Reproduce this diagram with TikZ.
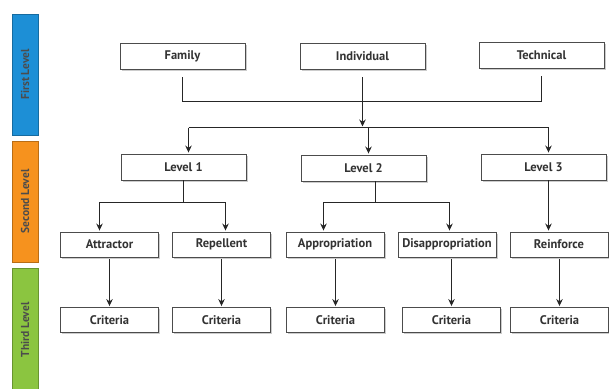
\documentclass[tikz,border=0pt]{standalone}
\usepackage{fontspec}
\setmainfont{PT Sans}
\usetikzlibrary{shadows,arrows.meta}
\definecolor{barblue}{RGB}{29,143,214}
\definecolor{barorange}{RGB}{246,146,30}
\definecolor{bargreen}{RGB}{139,197,64}
\tikzset{
boxnode/.style={rectangle, draw=black!70,fill=white, line width=0.9pt, inner sep=0pt, minimum width= 125pt, minimum height = 26pt, font=\fontsize{12.5}{14}\selectfont\bfseries, text=black!80, drop shadow={opacity=0.4, shadow xshift=1.5pt, shadow yshift=-1.5pt}},
smallbox/.style={boxnode, minimum width= 98pt, minimum height = 25pt},
levelbar/.style={rectangle, draw=#1!75!black,fill=#1, line width=0.6pt, inner sep=0pt, minimum width= 26pt},
barlabel/.style={rotate=90, font=\fontsize{11.5}{13}\selectfont\bfseries, text=black!70},
joinline/.style={line width=1.9pt, black!85},
joinarrow/.style={joinline, -{Stealth[length=7pt,width=6.5pt]}, shorten >=1pt},
}
\begin{document}
\begin{tikzpicture}[x=1pt,y=-1pt]
\useasboundingbox (0,0) rectangle (609,388);
% level bars
\node[levelbar=barblue, minimum height=121pt] at (25,74.5) (firstbar) {};
\node[levelbar=barorange, minimum height=121pt] at (25,201.5) (secondbar) {};
\node[levelbar=bargreen, minimum height=124pt] at (25,330) (thirdbar) {};
\node[barlabel] at (firstbar) {First Level};
\node[barlabel] at (secondbar) {Second Level};
\node[barlabel] at (thirdbar) {Third Level};

% first level
\node[boxnode] at (182.5,56) (family) {Family};
\node[boxnode] at (362.5,56) (individual) {Individual};
\node[boxnode] at (541.5,55) (technical) {Technical};

% second level
\node[boxnode] at (183.5,167) (level1) {Level 1};
\node[boxnode] at (363.5,168) (level2) {Level 2};
\node[boxnode] at (543.5,167) (level3) {Level 3};

% third level
\node[smallbox] at (109.5,244.5) (attractor) {Attractor};
\node[smallbox] at (221.5,244.5) (repellent) {Repellent};
\node[smallbox] at (335,244.5) (appropriation) {Appropriation};
\node[smallbox] at (447,244.5) (disappropriation) {Disappropriation};
\node[smallbox] at (559,244.5) (reinforce) {Reinforce};

\node[smallbox] at (109.5,320) (crit1) {Criteria};
\node[smallbox] at (221.5,320) (crit2) {Criteria};
\node[smallbox] at (335.5,320) (crit3) {Criteria};
\node[smallbox] at (451.5,320) (crit4) {Criteria};
\node[smallbox] at (559.5,320) (crit5) {Criteria};

\coordinate (topjoin) at (362.5,101.5);
\coordinate (split) at (362.5,127.5);
\coordinate (fork1) at (183.5,202.5);
\coordinate (fork2) at (375.5,202.5);

\draw[joinline] ([yshift=-8pt]family.south) -- (family.south |- topjoin) -- (technical.south |- topjoin) -- ([yshift=-8pt]technical.south);
\draw[joinarrow] ([yshift=-8pt]individual.south) -- (split);
\draw[joinline] ([xshift=5pt]level1.north |- split) -- ([xshift=5pt]level3.north |- split);
\foreach \n in {level1,level2,level3}
  \draw[joinarrow] ([xshift=5pt]\n.north |- split) -- ([xshift=5pt]\n.north);

\draw[joinline] (level1.south) -- (fork1);
\draw[joinarrow] (fork1) -| ([xshift=-10pt]attractor.north);
\draw[joinarrow] (fork1) -| ([xshift=4pt]repellent.north);
\draw[joinline] (level2.south -| fork2) -- (fork2);
\draw[joinarrow] (fork2) -| ([xshift=-11.5pt]appropriation.north);
\draw[joinarrow] (fork2) -| ([xshift=2.5pt]disappropriation.north);
\draw[joinarrow] ([xshift=5pt]level3.south) -- ([xshift=5pt]level3.south |- reinforce.north);

\foreach \b/\c in {attractor/crit1,repellent/crit2,appropriation/crit3,disappropriation/crit4,reinforce/crit5}
  \draw[joinarrow] ([yshift=-2pt]\b.south -| \c.north) -- (\c.north);
\end{tikzpicture}
\end{document}
